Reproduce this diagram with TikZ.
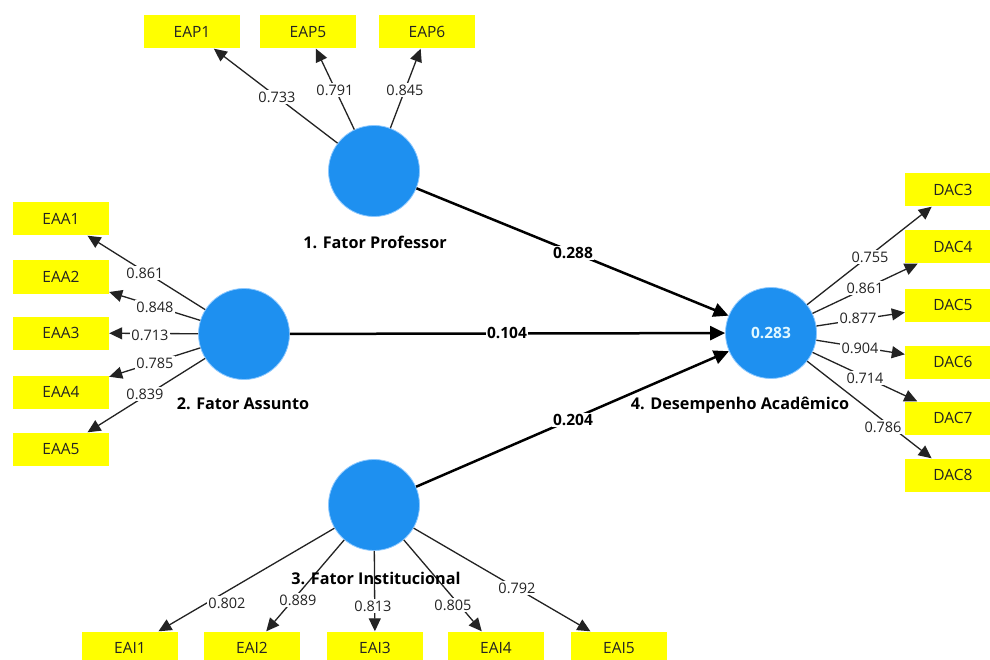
\documentclass[tikz,border=0pt]{standalone}
\usepackage{fontspec}
\setmainfont{Open Sans}
\usetikzlibrary{arrows.meta}
\definecolor{lvblue}{RGB}{30,144,240}
\definecolor{lvedge}{RGB}{140,200,255}
\definecolor{indyellow}{RGB}{255,255,0}
\definecolor{ink}{RGB}{35,35,35}
\definecolor{rsq}{RGB}{225,248,255}
\begin{document}
\begin{tikzpicture}[x=1pt,y=-1pt,
  lv/.style={circle,fill=lvblue,draw=lvedge,line width=0.8pt,minimum size=91pt,inner sep=0pt},
  ind/.style={fill=indyellow,minimum width=96pt,minimum height=33pt,inner sep=0pt,text=ink,font=\fontsize{15.5}{17}\selectfont},
  load/.style={draw=ink,line width=1.3pt,-{Triangle[length=13pt,width=12pt]}},
  struct/.style={draw=black,line width=2.5pt,-{Triangle[length=15pt,width=14pt]}},
  lval/.style={fill=white,inner sep=1.2pt,text=ink,font=\fontsize{14.5}{16}\selectfont},
  pval/.style={fill=white,inner sep=1.5pt,text=black,font=\bfseries\fontsize{15.5}{17}\selectfont},
  lvname/.style={text=black,inner sep=0pt,font=\bfseries\fontsize{16.2}{18}\selectfont}]
\path[use as bounding box,clip] (0,0) rectangle (990,660);
\fill[white] (0,0) rectangle (990,660);
% latent variables
\node[lv] (P) at (374,171) {};
\node[lv] (S) at (244,334) {};
\node[lv] (I) at (374,505) {};
\node[lv,text=rsq,font=\bfseries\fontsize{15.5}{17}\selectfont] (D) at (771,333) {0.283};
% indicators
\node[ind] (EAP1) at (192,32) {EAP1};
\node[ind] (EAP5) at (308,32) {EAP5};
\node[ind] (EAP6) at (427,32) {EAP6};
\node[ind] (EAA1) at (61,219) {EAA1};
\node[ind] (EAA2) at (61,277) {EAA2};
\node[ind] (EAA3) at (61,333) {EAA3};
\node[ind] (EAA4) at (61,392) {EAA4};
\node[ind] (EAA5) at (61,449) {EAA5};
\node[ind] (DAC3) at (953,190) {DAC3};
\node[ind] (DAC4) at (953,247) {DAC4};
\node[ind] (DAC5) at (953,305) {DAC5};
\node[ind] (DAC6) at (953,362) {DAC6};
\node[ind] (DAC7) at (953,418) {DAC7};
\node[ind] (DAC8) at (953,475) {DAC8};
\node[ind] (EAI1) at (130,648) {EAI1};
\node[ind] (EAI2) at (252,648) {EAI2};
\node[ind] (EAI3) at (375,648) {EAI3};
\node[ind] (EAI4) at (496,648) {EAI4};
\node[ind] (EAI5) at (619,648) {EAI5};
% loadings
\foreach \t in {EAP1,EAP5,EAP6} \draw[load] (P) -- (\t);
\foreach \t in {EAA1,EAA2,EAA3,EAA4,EAA5} \draw[load] (S) -- (\t);
\foreach \t in {DAC3,DAC4,DAC5,DAC6,DAC7,DAC8} \draw[load] (D) -- (\t);
\foreach \t in {EAI1,EAI2,EAI3,EAI4,EAI5} \draw[load] (I) -- (\t);
% structural paths
\draw[struct] (P) -- (D);
\draw[struct] (S) -- (D);
\draw[struct] (I) -- (D);
% loading values
\node[lval] (l1) at (277,97) {0.733};
\node[lval] (l2) at (335,90) {0.791};
\node[lval] (l3) at (405,90) {0.845};
\node[lval] (l4) at (145,273) {0.861};
\node[lval] (l5) at (155,307) {0.848};
\node[lval] (l6) at (150,335) {0.713};
\node[lval] (l7) at (155,363) {0.785};
\node[lval] (l8) at (145,394) {0.839};
\node[lval] (l9) at (870,257) {0.755};
\node[lval] (l10) at (865,288) {0.861};
\node[lval] (l11) at (858,318) {0.877};
\node[lval] (l12) at (860,348) {0.904};
\node[lval] (l13) at (865,378) {0.714};
\node[lval] (l14) at (883,427) {0.786};
\node[lval] (l15) at (227,603) {0.802};
\node[lval] (l16) at (298,600) {0.889};
\node[lval] (l17) at (373,606) {0.813};
\node[lval] (l18) at (453,605) {0.805};
\node[lval] (l19) at (517,588) {0.792};
% path coefficients
\node[pval] (c1) at (573,253) {0.288};
\node[pval] (c2) at (507,333) {0.104};
\node[pval] (c3) at (573,420) {0.204};
% construct names
\node[lvname] (nP) at (375,242) {1. Fator Professor};
\node[lvname] (nS) at (243,404) {2. Fator Assunto};
\node[lvname] (nI) at (376,578) {3. Fator Institucional};
\node[lvname] (nD) at (740,405) {4. Desempenho Acadêmico};
\end{tikzpicture}
\end{document}
